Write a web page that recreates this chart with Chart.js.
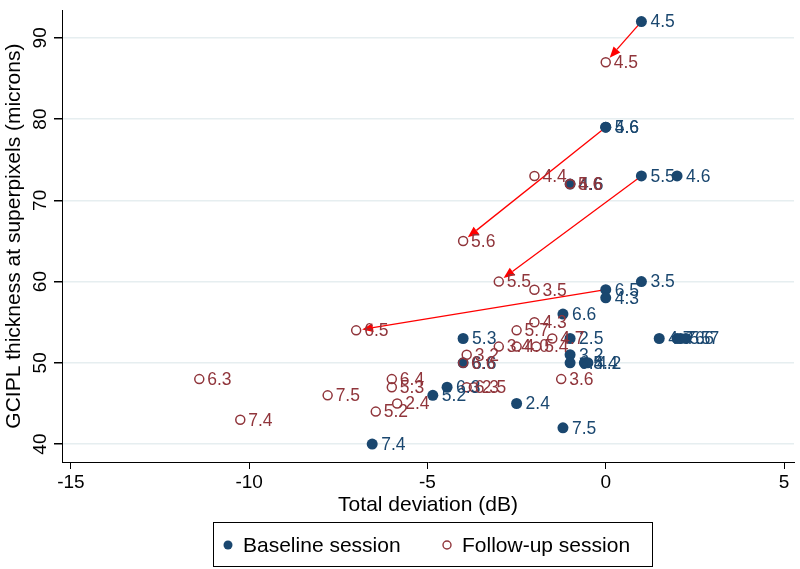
<!DOCTYPE html>
<html>
<head>
<meta charset="utf-8">
<script src="https://cdn.jsdelivr.net/npm/chart.js@4.4.1/dist/chart.umd.min.js"></script>
<style>
  html, body { margin: 0; padding: 0; background: #fff; }
</style>
</head>
<body>
<canvas id="chart" width="800" height="569"></canvas>
<script>
const FONT = '"Liberation Sans", Arial, sans-serif';
const NAVY = '#1a476f';
const MAROON = '#90353b';

// baseline session
const baseX = [1, 0, 0, 1, 2, -1, 1, 0, 0, -1.2, -4, -1, 1.5, 2, 2.1, 2.25, -1, -1, -0.6, -0.5, -4, -4.45, -4.85, -2.5, -1.2, -6.55];
const baseY = [92, 79, 79, 73, 73, 72, 60, 59, 58, 56, 53, 53, 53, 53, 53, 53, 51, 50, 50, 50, 50, 47, 46, 45, 42, 40];
const baseLbl = ['4.5', '4.6', '5.6', '5.5', '4.6', '4.6', '3.5', '6.5', '4.3', '6.6', '5.3', '2.5', '4.7', '7.5', '5.6', '6.7', '3.2', '6.4', '5.4', '4.2', '6.6', '6.3', '5.2', '2.4', '7.5', '7.4'];

// follow-up session
const follX = [0, -2, -1, -1, -4, -3, -2, -7, -2, -2.5, -1.5, -3, -2.5, -1.95, -3.9, -4, -6, -6, -3.9, -3.7, -5.85, -6.45, -7.8, -10.25, -11.4, -1.25];
const follY = [87, 73, 72, 72, 65, 60, 59, 54, 55, 54, 53, 52, 52, 52, 51, 50, 48, 47, 47, 47, 45, 44, 46, 43, 48, 48];
const follLbl = ['4.5', '4.4', '4.6', '5.6', '5.6', '5.5', '3.5', '6.5', '4.3', '5.7', '4.7', '3.4', '4.0', '5.4', '3.2', '6.6', '6.4', '5.3', '6.3', '2.5', '2.4', '5.2', '7.5', '7.4', '6.3', '3.6'];

// change arrows (baseline -> follow-up)
const arrowFromX = [1, 0, 1, 0];
const arrowFromY = [92, 79, 73, 59];
const arrowToX = [0, -4, -3, -7];
const arrowToY = [87, 65, 60, 54];

const xTicks = [-15, -10, -5, 0, 5];
const yTicks = [40, 50, 60, 70, 80, 90];

const toPts = (xs, ys) => xs.map((v, i) => ({x: v, y: ys[i]}));

const extras = {
  id: 'extras',
  beforeDatasetsDraw(chart) {
    const {ctx, scales: {x: xs, y: ys}} = chart;
    ctx.save();
    ctx.strokeStyle = '#ff0000';
    ctx.fillStyle = '#ff0000';
    ctx.lineWidth = 1.3;
    arrowFromX.forEach((v, i) => {
      const x1 = xs.getPixelForValue(v), y1 = ys.getPixelForValue(arrowFromY[i]);
      let x2 = xs.getPixelForValue(arrowToX[i]), y2 = ys.getPixelForValue(arrowToY[i]);
      const a = Math.atan2(y2 - y1, x2 - x1);
      x2 -= Math.cos(a) * 6;
      y2 -= Math.sin(a) * 6;
      const hl = 11, hw = 4.5;
      const bx = x2 - Math.cos(a) * hl, by = y2 - Math.sin(a) * hl;
      ctx.beginPath();
      ctx.moveTo(x1, y1);
      ctx.lineTo(bx, by);
      ctx.stroke();
      ctx.beginPath();
      ctx.moveTo(x2, y2);
      ctx.lineTo(bx - Math.sin(a) * hw, by + Math.cos(a) * hw);
      ctx.lineTo(bx + Math.sin(a) * hw, by - Math.cos(a) * hw);
      ctx.closePath();
      ctx.fill();
    });
    ctx.restore();
  },
  afterDatasetsDraw(chart) {
    const {ctx, scales: {x: xs, y: ys}} = chart;
    ctx.save();
    ctx.font = '17.5px ' + FONT;
    ctx.textBaseline = 'middle';
    ctx.textAlign = 'left';
    ctx.fillStyle = NAVY;
    baseX.forEach((v, i) => ctx.fillText(baseLbl[i], xs.getPixelForValue(v) + 9, ys.getPixelForValue(baseY[i]) + 1));
    ctx.fillStyle = MAROON;
    follX.forEach((v, i) => ctx.fillText(follLbl[i], xs.getPixelForValue(v) + 8, ys.getPixelForValue(follY[i]) + 1));
    ctx.restore();
  },
  afterDraw(chart) {
    const {ctx, scales: {y: ys}} = chart;
    ctx.save();
    // rotated y tick labels
    ctx.font = '19px ' + FONT;
    ctx.fillStyle = '#000';
    ctx.textAlign = 'center';
    ctx.textBaseline = 'middle';
    yTicks.forEach(v => {
      ctx.save();
      ctx.translate(41, ys.getPixelForValue(v));
      ctx.rotate(-Math.PI / 2);
      ctx.fillText(String(v), 0, 0);
      ctx.restore();
    });
    // legend box
    ctx.strokeStyle = '#000';
    ctx.lineWidth = 1;
    ctx.strokeRect(213.5, 522.5, 439, 44);
    ctx.fillStyle = NAVY;
    ctx.beginPath();
    ctx.arc(228, 545, 4.5, 0, Math.PI * 2);
    ctx.fill();
    ctx.strokeStyle = MAROON;
    ctx.lineWidth = 1.4;
    ctx.beginPath();
    ctx.arc(447, 545, 4, 0, Math.PI * 2);
    ctx.stroke();
    ctx.fillStyle = '#000';
    ctx.font = '21px ' + FONT;
    ctx.textAlign = 'left';
    ctx.fillText('Baseline session', 243, 546);
    ctx.fillText('Follow-up session', 462, 546);
    ctx.restore();
  }
};

new Chart(document.getElementById('chart'), {
  type: 'scatter',
  data: {
    datasets: [
      {
        label: 'Baseline session',
        data: toPts(baseX, baseY),
        order: 1,
        pointRadius: 5.5,
        pointBackgroundColor: NAVY,
        pointBorderColor: NAVY,
        pointBorderWidth: 0
      },
      {
        label: 'Follow-up session',
        data: toPts(follX, follY),
        order: 0,
        pointRadius: 4.5,
        pointBackgroundColor: 'rgba(0,0,0,0)',
        pointBorderColor: MAROON,
        pointBorderWidth: 1.5
      }
    ]
  },
  options: {
    responsive: false,
    animation: false,
    layout: { padding: { top: 8, right: 2, left: 0, bottom: 0 } },
    plugins: { legend: { display: false }, tooltip: { enabled: false } },
    scales: {
      x: {
        type: 'linear',
        min: -15.25,
        max: 5.28,
        afterBuildTicks: s => { s.ticks = xTicks.map(v => ({value: v})); },
        afterFit: s => { s.height = 107; },
        grid: { drawOnChartArea: false, tickLength: 7, tickColor: '#000' },
        border: { color: '#000', width: 1 },
        ticks: { font: { family: FONT, size: 19 }, color: '#000', padding: 2, maxRotation: 0 },
        title: {
          display: true,
          text: 'Total deviation (dB)',
          color: '#000',
          font: { family: FONT, size: 21 },
          padding: { top: 0, bottom: 51 }
        }
      },
      y: {
        min: 37.8,
        max: 93.4,
        afterBuildTicks: s => { s.ticks = yTicks.map(v => ({value: v})); },
        afterFit: s => { s.width = 62; },
        grid: { color: '#e6eef0', lineWidth: 1.5, tickLength: 8, tickColor: '#000' },
        border: { color: '#000', width: 1 },
        ticks: { callback: () => '' },
        title: {
          display: true,
          text: 'GCIPL thickness at superpixels (microns)',
          color: '#000',
          font: { family: FONT, size: 21 },
          padding: { top: 2, bottom: 0 }
        }
      }
    }
  },
  plugins: [extras]
});
</script>
</body>
</html>
